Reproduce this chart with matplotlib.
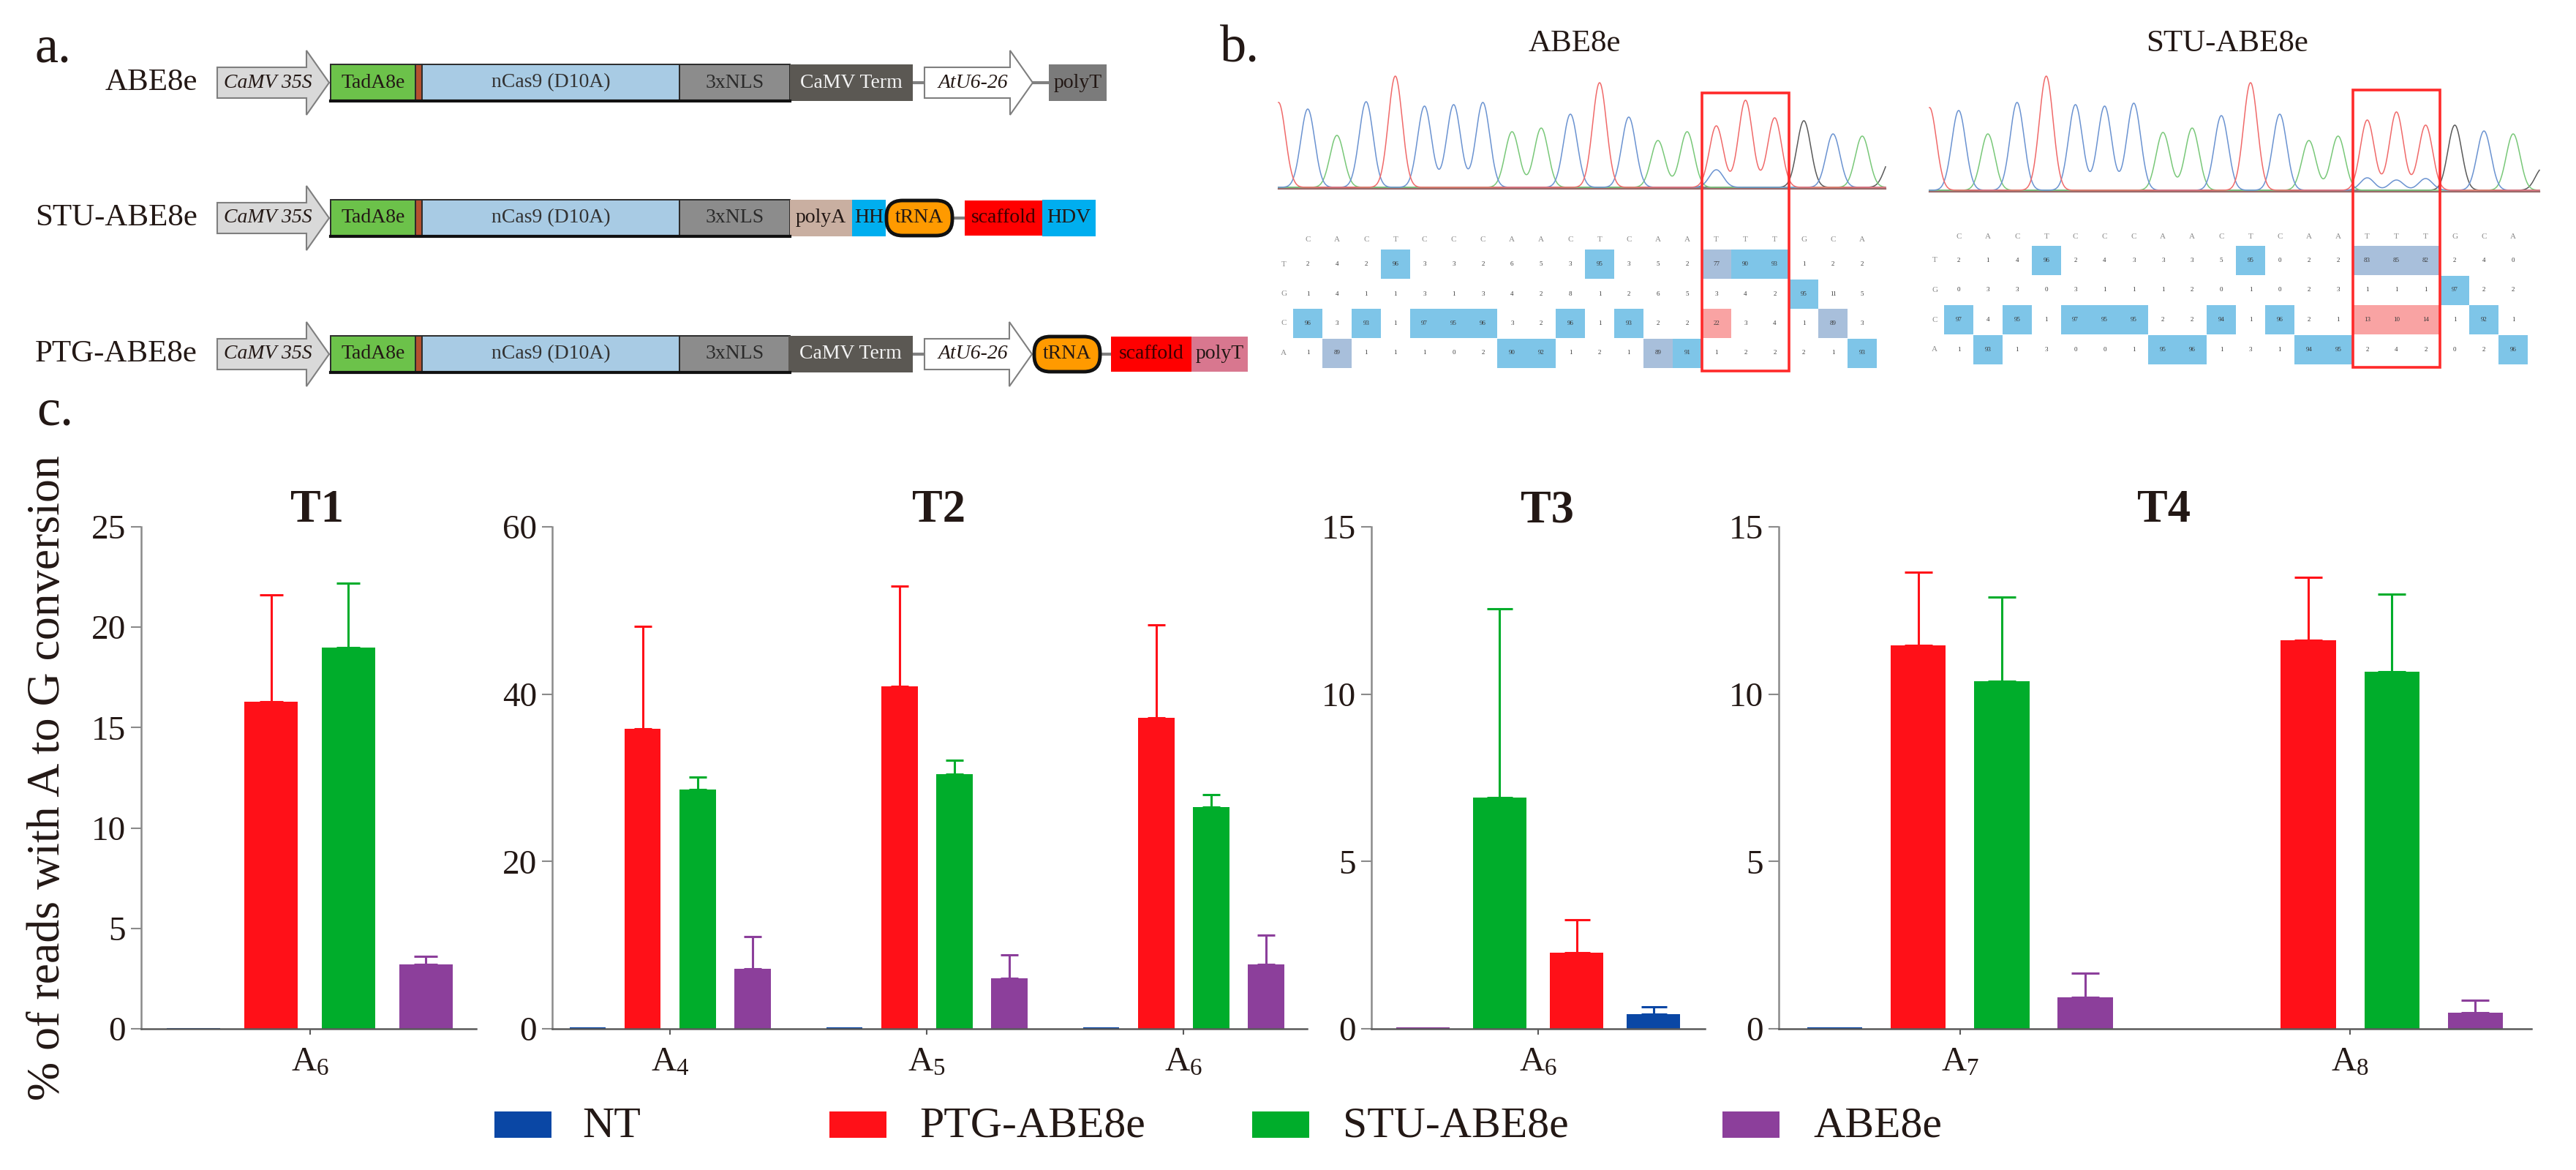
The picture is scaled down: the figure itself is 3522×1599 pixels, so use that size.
import matplotlib
matplotlib.use("Agg")
import matplotlib.pyplot as plt
from matplotlib.patches import Rectangle, Polygon, FancyBboxPatch
import numpy as np

W, H = 3522, 1599
DPI = 100

# ---- panel c data (percent of reads with A to G conversion) ----
SERIES = ["NT", "PTG-ABE8e", "STU-ABE8e", "ABE8e"]
COLORS = {"NT": "#0a47a5", "PTG-ABE8e": "#ff1018", "STU-ABE8e": "#00ad2b", "ABE8e": "#8c3f9b"}

t1_sites = ["6"]
t1_mean = {"NT": [0.05], "PTG-ABE8e": [16.3], "STU-ABE8e": [19.0], "ABE8e": [3.2]}
t1_err = {"NT": [0.0], "PTG-ABE8e": [5.3], "STU-ABE8e": [3.2], "ABE8e": [0.4]}

t2_sites = ["4", "5", "6"]
t2_mean = {"NT": [0.2, 0.2, 0.2], "PTG-ABE8e": [35.9, 40.9, 37.2],
           "STU-ABE8e": [28.6, 30.4, 26.5], "ABE8e": [7.2, 6.0, 7.7]}
t2_err = {"NT": [0.0, 0.0, 0.0], "PTG-ABE8e": [12.2, 12.0, 11.1],
          "STU-ABE8e": [1.5, 1.7, 1.5], "ABE8e": [3.8, 2.8, 3.5]}

t3_sites = ["6"]
t3_order = ["ABE8e", "STU-ABE8e", "PTG-ABE8e", "NT"]
t3_mean = {"NT": [0.44], "PTG-ABE8e": [2.27], "STU-ABE8e": [6.9], "ABE8e": [0.05]}
t3_err = {"NT": [0.22], "PTG-ABE8e": [0.99], "STU-ABE8e": [5.65], "ABE8e": [0.0]}

t4_sites = ["7", "8"]
t4_mean = {"NT": [0.05, 0.0], "PTG-ABE8e": [11.46, 11.6],
           "STU-ABE8e": [10.39, 10.66], "ABE8e": [0.94, 0.49]}
t4_err = {"NT": [0.0, 0.0], "PTG-ABE8e": [2.19, 1.89],
          "STU-ABE8e": [2.5, 2.32], "ABE8e": [0.72, 0.37]}

# ---- panel b data (Sanger traces + base percentage tables) ----
seq = "CACTCCCAACTCAATTTGCA"
edit_cols = [15, 16, 17]
# trace peaks incl. one partial flank peak on each side
trace_seq = "T" + seq + "G"
abe_peaks = [116, 107, 71, 117, 152, 111, 113, 116, 76, 81, 100, 143, 96, 64, 76,
             84, 119, 95, 91, 73, 70, 40]
abe_minor = [(15, "C", 24)]
stu_peaks = [113, 109, 77, 120, 156, 117, 115, 119, 79, 85, 102, 147, 104, 68, 74,
             96, 107, 89, 89, 81, 77, 30]
stu_minor = [(15, "C", 17), (16, "C", 14), (17, "C", 16)]

abe_T = [2, 4, 2, 96, 3, 3, 2, 6, 5, 3, 95, 3, 5, 2, 77, 90, 93, 1, 2, 2]
abe_G = [1, 4, 1, 1, 3, 1, 3, 4, 2, 8, 1, 2, 6, 5, 3, 4, 2, 95, 11, 5]
abe_C = [96, 3, 93, 1, 97, 95, 96, 3, 2, 96, 1, 93, 2, 2, 22, 3, 4, 1, 89, 3]
abe_A = [1, 89, 1, 1, 1, 0, 2, 90, 92, 1, 2, 1, 89, 91, 1, 2, 2, 2, 1, 93]

stu_T = [2, 1, 4, 96, 2, 4, 3, 3, 3, 5, 95, 0, 2, 2, 83, 85, 82, 2, 4, 0]
stu_G = [0, 3, 3, 0, 3, 1, 1, 1, 2, 0, 1, 0, 2, 3, 1, 1, 1, 97, 2, 2]
stu_C = [97, 4, 95, 1, 97, 95, 95, 2, 2, 94, 1, 96, 2, 1, 13, 10, 14, 1, 92, 1]
stu_A = [1, 93, 1, 3, 0, 0, 1, 95, 96, 1, 3, 1, 94, 95, 2, 4, 2, 0, 2, 96]

plt.rcParams["font.family"] = ["Liberation Serif", "DejaVu Serif"]
plt.rcParams["mathtext.fontset"] = "custom"
plt.rcParams["mathtext.rm"] = "Liberation Serif"
plt.rcParams["mathtext.it"] = "Liberation Serif:italic"
plt.rcParams["mathtext.bf"] = "Liberation Serif:bold"

TXT = "#231815"
BOXFS = 20

fig = plt.figure(figsize=(W / DPI, H / DPI), dpi=DPI)
ov = fig.add_axes([0, 0, 1, 1])
ov.set_xlim(0, W)
ov.set_ylim(H, 0)
ov.axis("off")


def ftext(x, y, s, **kw):
    fig.text(x / W, 1 - y / H, s, **kw)


# ================= panel a : constructs =================
ftext(73, 67, "a.", fontsize=52, ha="center", va="center", color=TXT)


def arrow(x0, x1, yc, label, fc):
    hb, hh, head = 21, 44, 31
    pts = [(x0, yc - hb), (x1 - head, yc - hb), (x1 - head, yc - hh), (x1, yc),
           (x1 - head, yc + hh), (x1 - head, yc + hb), (x0, yc + hb)]
    ov.add_patch(Polygon(pts, closed=True, fc=fc, ec="#7f7f7f", lw=1.5, zorder=3))
    ov.text((x0 + x1 - head) / 2 + 8, yc, label, style="italic", fontsize=BOXFS,
            ha="center", va="center", color=TXT, zorder=4)


def box(x0, x1, yc, label, fc, tc=TXT, ec="none", half=25):
    ov.add_patch(Rectangle((x0, yc - half), x1 - x0, 2 * half, fc=fc, ec=ec, lw=1.4, zorder=3))
    if label:
        ov.text((x0 + x1) / 2, yc, label, fontsize=BOXFS, ha="center", va="center",
                color=tc, zorder=4)


def trna(x0, x1, yc):
    ov.add_patch(FancyBboxPatch((x0 + 3, yc - 24), x1 - x0 - 6, 48,
                                boxstyle="round,pad=0,rounding_size=22",
                                fc="#ff9a00", ec="#111111", lw=3.5, zorder=4))
    ov.text((x0 + x1) / 2, yc, "tRNA", fontsize=BOXFS, ha="center", va="center",
            color=TXT, zorder=5)


def link(x0, x1, yc):
    ov.plot([x0, x1], [yc, yc], color="#808080", lw=3, zorder=2, solid_capstyle="butt")


def cas_part(yc):
    arrow(297, 450, yc, "CaMV 35S", "#d9d9d9")
    box(452, 568, yc, "TadA8e", "#6cc24a", ec="#2b2b2b")
    box(568, 577, yc, "", "#b4512f", ec="#2b2b2b")
    box(577, 929, yc, "nCas9 (D10A)", "#a8cbe4", tc="#333333", ec="#2b2b2b")
    box(929, 1080, yc, "3xNLS", "#8c8c8c", tc="#2b2b2b", ec="#2b2b2b")
    ov.plot([452, 1080], [yc + 25, yc + 25], color="#111111", lw=3, zorder=4)


rows = [(113, "ABE8e"), (298, "STU-ABE8e"), (484, "PTG-ABE8e")]
for yc, name in rows:
    ftext(270, yc, name, fontsize=31, ha="right", va="center", color=TXT)
    cas_part(yc)

# ABE8e
yc = rows[0][0]
box(1080, 1248, yc, "CaMV Term", "#5b5853", tc="#f2f2f2")
link(1248, 1265, yc)
arrow(1264, 1412, yc, "AtU6-26", "white")
link(1412, 1435, yc)
box(1434, 1513, yc, "polyT", "#7b7b7b", tc=TXT)

# STU-ABE8e
yc = rows[1][0]
box(1080, 1165, yc, "polyA", "#c9afa1")
box(1165, 1211, yc, "HH", "#00aeef")
link(1300, 1320, yc)
trna(1209, 1305, yc)
box(1319, 1425, yc, "scaffold", "#ff0000", tc="#3a0000", half=24)
box(1425, 1498, yc, "HDV", "#00aeef")

# PTG-ABE8e
yc = rows[2][0]
box(1078, 1248, yc, "CaMV Term", "#5b5853", tc="#f2f2f2")
link(1248, 1265, yc)
arrow(1264, 1411, yc, "AtU6-26", "white")
link(1500, 1520, yc)
trna(1411, 1507, yc)
box(1519, 1629, yc, "scaffold", "#ff0000", tc="#3a0000", half=24)
box(1629, 1706, yc, "polyT", "#d8778f", tc=TXT, half=24)

# ================= panel b : Sanger traces =================
ftext(1695, 67, "b.", fontsize=52, ha="center", va="center", color=TXT)

COL = 39.9
SIG = 9.5
TRACE = {"G": "#5a5a5a", "A": "#79c879", "C": "#6b93d1", "T": "#f06a6a"}


def sanger(title, x1, base, xmin, xmax, peaks, minor, counts, t_row, box_top):
    ftext((xmin + xmax) / 2 - 10, 60, title, fontsize=31, ha="center", va="center", color=TXT)
    xs = np.linspace(xmin, xmax, 1500)
    for b in "GACT":
        y = np.zeros_like(xs)
        for i, (s, h) in enumerate(zip(trace_seq, peaks)):
            if s == b:
                y += h * np.exp(-((xs - (x1 + (i - 1) * COL)) ** 2) / (2 * SIG ** 2))
        for i, s, h in minor:
            if s == b:
                y += h * np.exp(-((xs - (x1 + (i - 1) * COL)) ** 2) / (2 * SIG ** 2))
        ov.plot(xs, base - y, color=TRACE[b], lw=1.1, zorder=3)
    ov.plot([xmin, xmax], [base + 1.5, base + 1.5], color="#9a6a6a", lw=1.6, zorder=2)

    # percentage table
    header_y = t_row - 33
    label_x = x1 - 33
    for i, s in enumerate(seq):
        ov.text(x1 + i * COL, header_y, s, fontsize=8, ha="center", va="center", color="#8a8a8a")
    for r, (b, vals) in enumerate(zip("TGCA", counts)):
        yr = t_row + r * 40.5
        ov.text(label_x, yr, b, fontsize=8, ha="center", va="center", color="#8a8a8a")
        for i, v in enumerate(vals):
            xc = x1 + i * COL
            col_vals = [c[i] for c in counts]
            fc = None
            if v == max(col_vals):
                fc = "#7ec5e8" if v >= 90 else "#a8bfdb"
            if b == "C" and (i + 1) in edit_cols and v >= 10:
                fc = "#f9a3a3"
            if fc:
                ov.add_patch(Rectangle((xc - COL / 2, yr - 20), COL, 40, fc=fc, ec="none", zorder=1))
            ov.text(xc, yr, str(v), fontsize=6.5, ha="center", va="center", color="#3a3a3a", zorder=2)
    bx0 = x1 + (edit_cols[0] - 1) * COL - COL / 2
    bx1 = x1 + (edit_cols[-1] - 1) * COL + COL / 2
    ov.add_patch(Rectangle((bx0, box_top), bx1 - bx0, t_row + 3 * 40.5 + 24 - box_top,
                           fc="none", ec="#ff2a2a", lw=2.6, zorder=5))


sanger("ABE8e", 1788, 256, 1748, 2578, abe_peaks, abe_minor,
       [abe_T, abe_G, abe_C, abe_A], 361, 127)
sanger("STU-ABE8e", 2678, 260, 2638, 3472, stu_peaks, stu_minor,
       [stu_T, stu_G, stu_C, stu_A], 356, 123)

# ================= panel c : bar charts =================
ftext(75, 563, "c.", fontsize=52, ha="center", va="center", color=TXT)
ftext(66, 1063, "% of reads with A to G conversion", fontsize=46, rotation=90,
      ha="center", va="center", color=TXT)

Y0, Y1 = 1406, 720


def bar_panel(l, r, xlim, ymax, ystep, sites, order, mean, err, step, width, cap, title):
    ax = fig.add_axes([l / W, 1 - Y0 / H, (r - l) / W, (Y0 - Y1) / H])
    centers = np.arange(len(sites))
    n = len(order)
    for i, name in enumerate(order):
        x = centers + (i - (n - 1) / 2) * step
        m = np.array(mean[name])
        e = np.array(err[name])
        ax.bar(x, m, width, color=COLORS[name], zorder=2)
        k = e > 0
        if k.any():
            ax.errorbar(x[k], m[k], yerr=[np.zeros(k.sum()), e[k]], fmt="none",
                        ecolor=COLORS[name], elinewidth=2.2, capsize=cap, capthick=2.2, zorder=1)
    ax.set_xlim(*xlim)
    ax.set_ylim(0, ymax)
    ax.set_yticks(np.arange(0, ymax + 0.1, ystep))
    ax.set_xticks(centers)
    ax.set_xticklabels([r"A$_{%s}$" % s for s in sites])
    for sp in ("top", "right"):
        ax.spines[sp].set_visible(False)
    for sp in ("left", "bottom"):
        ax.spines[sp].set_color("#5a5a5a")
        ax.spines[sp].set_linewidth(1.8)
    ax.spines["left"].set_color("#8a8a8a")
    ax.tick_params(axis="y", length=10, width=1.5, color="#8a8a8a", labelsize=34,
                   pad=5, labelcolor=TXT)
    ax.tick_params(axis="x", length=6, width=1.5, color="#5a5a5a", labelsize=34,
                   pad=12, labelcolor=TXT)
    ax.patch.set_alpha(0)
    ftext((l + r) / 2 + 12, 713, title, fontsize=45, fontweight="bold",
          ha="center", va="baseline", color=TXT)
    return ax


bar_panel(193, 651, (-2.18, 2.15), 25, 5, t1_sites, SERIES, t1_mean, t1_err, 1.0, 0.69, 11.5, "T1")
bar_panel(755, 1787, (-0.459, 2.481), 60, 20, t2_sites, SERIES, t2_mean, t2_err, 0.214, 0.142, 8.6, "T2")
bar_panel(1875, 2331, (-2.17, 2.17), 15, 5, t3_sites, t3_order, t3_mean, t3_err, 1.0, 0.69, 12.6, "T3")
bar_panel(2432, 3461, (-0.465, 1.465), 15, 5, t4_sites, SERIES, t4_mean, t4_err, 0.214, 0.141, 14, "T4")

# legend
leg_patch_x = [676, 1134, 1712, 2355]
leg_text_x = [796, 1257, 1836, 2479]
for name, px, tx in zip(SERIES, leg_patch_x, leg_text_x):
    ov.add_patch(Rectangle((px, 1537 - 18), 78, 36, fc=COLORS[name], ec="none"))
    ftext(tx, 1540, name, fontsize=43, ha="left", va="center", color=TXT)

fig.savefig("out.png", dpi=DPI)
